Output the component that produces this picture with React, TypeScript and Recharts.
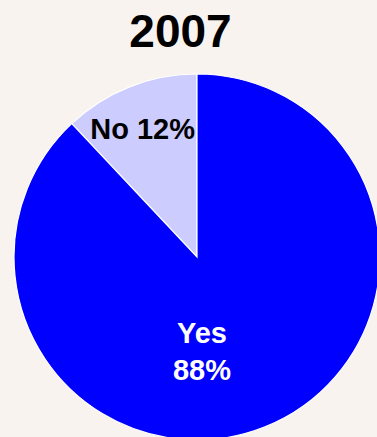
import { Cell, Pie, PieChart } from 'recharts'

const answers = ['No', 'Yes']
const shares = [12, 88]
const sliceColors = ['#ccccff', '#0000ff']
const labelColors = ['#000000', '#ffffff']
const title = '2007'

// Where each label sits: angle (deg, 0 = right, counterclockwise) and fraction of the radius
const labelSpots = [
  { angle: 113, r: 0.76 },
  { angle: -87, r: 0.52 }
]

const chartData = answers.map((name, i) => ({ name, value: shares[i] }))

const font = '"Liberation Sans", Arial, sans-serif'

function SliceLabel(props: any) {
  const { cx, cy, outerRadius, index, name, value } = props
  const spot = labelSpots[index]
  const rad = (spot.angle * Math.PI) / 180
  const x = cx + Math.cos(rad) * outerRadius * spot.r
  const y = cy - Math.sin(rad) * outerRadius * spot.r
  const fill = labelColors[index]

  // "No 12%" fits on one line, "Yes / 88%" is split over two
  if (index === 0) {
    return (
      <text x={x} y={y + 10} textAnchor="middle" fill={fill} fontSize={29} fontWeight="bold" fontFamily={font}>
        {`${name} ${value}%`}
      </text>
    )
  }
  return (
    <text x={x} y={y} textAnchor="middle" fill={fill} fontSize={29} fontWeight="bold" fontFamily={font}>
      <tspan x={x} dy={-9}>
        {name}
      </tspan>
      <tspan x={x} dy={37}>
        {`${value}%`}
      </tspan>
    </text>
  )
}

export default function App() {
  return (
    <div
      style={{
        position: 'fixed',
        top: 0,
        left: 0,
        width: 377,
        height: 437,
        background: '#f8f3ef',
        overflow: 'hidden'
      }}
    >
      <svg width={377} height={437} style={{ position: 'absolute', top: 0, left: 0 }}>
        <text x={180.5} y={46.5} textAnchor="middle" fontSize={46} fontWeight="bold" fontFamily={font} fill="#000">
          {title}
        </text>
      </svg>
      <div style={{ position: 'absolute', top: 0, left: 0 }}>
        <PieChart width={377} height={437} margin={{ top: 0, right: 0, bottom: 0, left: 0 }}>
          <Pie
            data={chartData}
            dataKey="value"
            nameKey="name"
            cx={197}
            cy={257}
            outerRadius={183}
            startAngle={90}
            endAngle={450}
            stroke="#ffffff"
            strokeWidth={1.2}
            label={SliceLabel}
            labelLine={false}
            isAnimationActive={false}
          >
            {chartData.map((entry, i) => (
              <Cell key={entry.name} fill={sliceColors[i]} />
            ))}
          </Pie>
        </PieChart>
      </div>
    </div>
  )
}
